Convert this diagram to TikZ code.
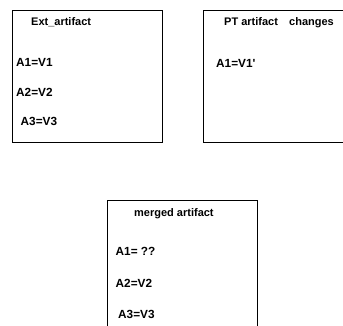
\documentclass[tikz,border=0pt]{standalone}
\usepackage{fontspec}
\setmainfont{Liberation Sans}
% same family without TeX ligatures, so ' stays a straight prime
\newfontfamily\plainsans{Liberation Sans}
\begin{document}
\begin{tikzpicture}[x=1pt,y=-1pt,
  panel/.style={draw=black,line width=0.9pt},
  lbl/.style={anchor=base west,inner sep=0pt,font=\bfseries\fontsize{11}{13}\selectfont},
  attr/.style={lbl,font=\plainsans\bfseries\fontsize{11.8}{14}\selectfont}]
\useasboundingbox (0,0) rectangle (343,326);
\clip (0,0) rectangle (343,326);
% source artifact
\draw[panel] (12,10) rectangle (162,142);
\node[lbl] (exttitle) at (31,26) {Ext\_artifact};
\node[attr] (exta1) at (16,66.5) {A1=V1};
\node[attr] (exta2) at (16,96.5) {A2=V2};
\node[attr] (exta3) at (20.5,125.5) {A3=V3};
% changed artifact
\draw[panel] (203,10) rectangle (350,142);
\node[lbl] (pttitle) at (224,26) {PT artifact};
\node[lbl] (ptchg) at (289,26) {changes};
\node[attr] (pta1) at (216,67.5) {A1=V1'};
% merge result
\draw[panel] (107,200) rectangle (257,340);
\node[lbl] (mtitle) at (134,217) {merged artifact};
\node[attr] (ma1) at (115.5,255.5) {A1= ??};
\node[attr] (ma2) at (115.5,287) {A2=V2};
\node[attr] (ma3) at (118,318.5) {A3=V3};
\end{tikzpicture}
\end{document}
